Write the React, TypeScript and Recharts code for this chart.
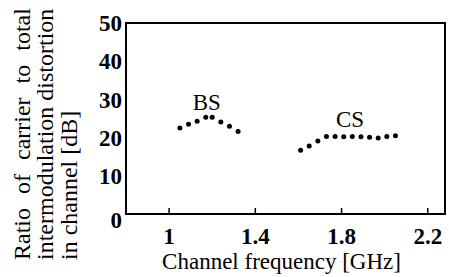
import React from 'react';
import { ScatterChart, Scatter, XAxis, YAxis, ReferenceArea } from 'recharts';

const bsFreq = [1.05, 1.09, 1.13, 1.17, 1.2, 1.24, 1.28, 1.32];
const bsRatio = [22.5, 23.5, 24.3, 25.3, 25.3, 24.1, 23.0, 21.6];

const csFreq = [1.61, 1.65, 1.69, 1.73, 1.77, 1.81, 1.85, 1.89, 1.93, 1.97, 2.01, 2.05];
const csRatio = [16.7, 17.8, 19.1, 20.3, 20.3, 20.2, 20.3, 20.2, 20.1, 19.9, 20.3, 20.5];

const xTicks = [1, 1.4, 1.8, 2.2];
const yTicks = [0, 10, 20, 30, 40, 50];

const seriesNames = ['BS', 'CS'];
const namePosX = [1.175, 1.839];
const namePosY = [27.2, 22.8];

const yTitleLines = ['Ratio of carrier to total', 'intermodulation distortion', 'in channel [dB]'];
const xTitle = 'Channel frequency [GHz]';

const bsData = bsFreq.map((f, i) => ({ f, r: bsRatio[i] }));
const csData = csFreq.map((f, i) => ({ f, r: csRatio[i] }));
const nameData = seriesNames.map((name, i) => ({ f: namePosX[i], r: namePosY[i], name }));

const FONT = "'Liberation Serif', serif";
const txt = { fontFamily: FONT, fill: '#000' };

const dot = (p: any) => <circle cx={p.cx} cy={p.cy} r={2.5} fill="#000" />;

const nameShape = (p: any) => (
  <text x={p.cx} y={p.cy} textAnchor="middle" style={{ ...txt, fontSize: 23 }}>
    {p.payload.name}
  </text>
);

const XTick = (p: any) => (
  <text x={p.x} y={p.y} dy="0.71em" textAnchor="middle" style={{ ...txt, fontSize: 23, fontWeight: 'bold' }}>
    {p.payload.value}
  </text>
);

const YTick = (p: any) => (
  <text
    x={p.x}
    y={p.payload.value === 0 ? p.y + 6 : p.y}
    dy="0.355em"
    textAnchor="end"
    style={{ ...txt, fontSize: 23, fontWeight: 'bold' }}
  >
    {p.payload.value}
  </text>
);

const renderYTitle = () => {
  const baselines = [30, 53, 77];
  return (
    <g>
      {yTitleLines.map((line, i) => (
        <text
          key={i}
          x={baselines[i]}
          y={260}
          transform={`rotate(-90, ${baselines[i]}, 260)`}
          style={{ ...txt, fontSize: 24, wordSpacing: i === 0 ? 8 : 0 }}
        >
          {line}
        </text>
      ))}
    </g>
  );
};

const renderXTitle = () => (
  <text x={281.5} y={269} textAnchor="middle" style={{ ...txt, fontSize: 23 }}>
    {xTitle}
  </text>
);

export default function App() {
  return (
    <div style={{ position: 'absolute', left: 0, top: 0, width: 449, height: 277, background: '#fff', fontFamily: FONT }}>
      <ScatterChart width={449} height={277} margin={{ top: 23, right: 4, bottom: 0, left: 0 }}>
        <XAxis
          type="number"
          dataKey="f"
          domain={[0.8, 2.28]}
          ticks={xTicks}
          allowDataOverflow
          height={63}
          axisLine={{ stroke: '#000', strokeWidth: 2 }}
          tickLine={{ stroke: '#000', strokeWidth: 1.5 }}
          tickSize={-6}
          tickMargin={20}
          tick={XTick}
          label={renderXTitle}
        />
        <YAxis
          type="number"
          dataKey="r"
          domain={[0, 50]}
          ticks={yTicks}
          width={126}
          axisLine={{ stroke: '#000', strokeWidth: 2 }}
          tickLine={false}
          tickSize={0}
          tickMargin={4}
          tick={YTick}
          label={renderYTitle}
        />
        <ReferenceArea x1={0.8} x2={2.28} y1={0} y2={50} fill="none" stroke="#000" strokeWidth={2} />
        <Scatter data={bsData} shape={dot} isAnimationActive={false} />
        <Scatter data={csData} shape={dot} isAnimationActive={false} />
        <Scatter data={nameData} shape={nameShape} isAnimationActive={false} />
      </ScatterChart>
    </div>
  );
}
